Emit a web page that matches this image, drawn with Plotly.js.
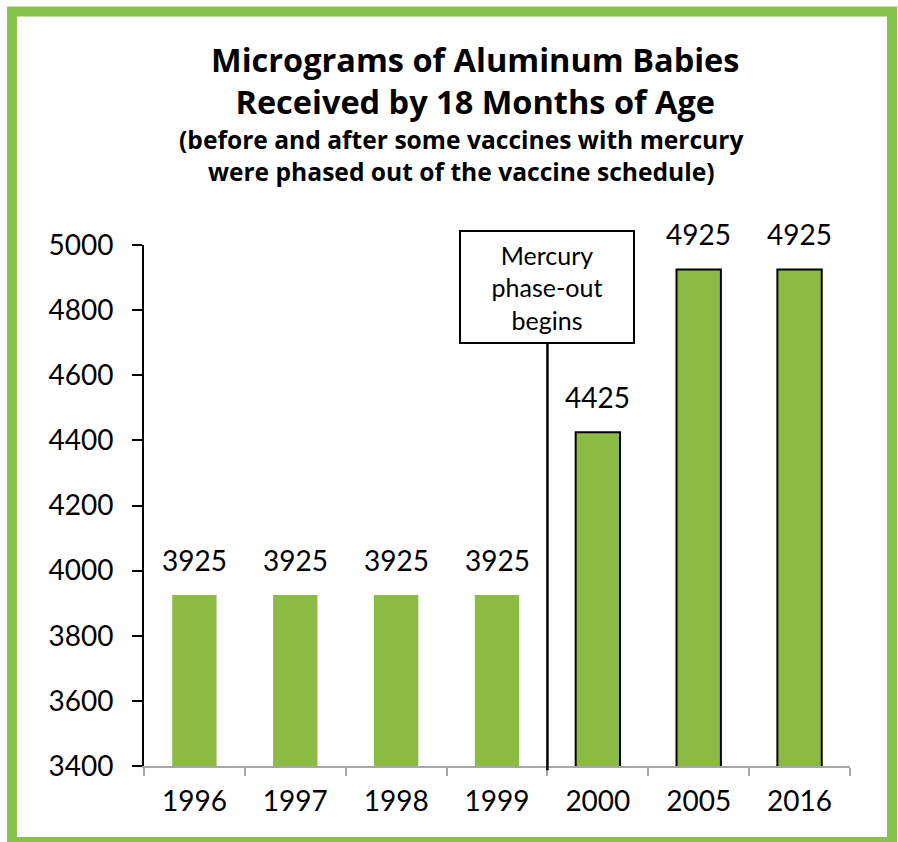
<!DOCTYPE html>
<html>
<head>
<meta charset="utf-8">
<script src="https://cdn.plot.ly/plotly-3.0.1.min.js"></script>
<style>
  html, body { margin: 0; padding: 0; background: #ffffff; }
  #chart { width: 898px; height: 842px; }
</style>
</head>
<body>
<div id="chart"></div>
<script>
// ---- Data ----
const years = ["1996", "1997", "1998", "1999", "2000", "2005", "2016"];
const aluminumMcg = [3925, 3925, 3925, 3925, 4425, 4925, 4925];
const outlineWidths = [0, 0, 0, 0, 2, 2, 2];
const yTickValues = [3400, 3600, 3800, 4000, 4200, 4400, 4600, 4800, 5000];
const titleLines = ["Micrograms of Aluminum Babies", "Received by 18 Months of Age"];
const subtitleLines = ["(before and after some vaccines with mercury", "were phased out of the vaccine schedule)"];
const markerText = "Mercury<br>phase-out<br>begins";

// ---- Styles ----
const barGreen = "#8cbb43";
const frameGreen = "#85c24c";
const tickFont = { family: "Lato, 'Open Sans', sans-serif", size: 28, color: "#000000" };
const titleFont = { family: "'Open Sans', 'Noto Sans', sans-serif", size: 32.5, color: "#000000" };
const subFont = { family: "'Open Sans', 'Noto Sans', sans-serif", size: 24.6, color: "#000000" };

const trace = {
  type: "bar",
  x: years,
  y: aluminumMcg,
  width: 0.44,
  marker: {
    color: barGreen,
    line: { color: "#000000", width: outlineWidths }
  },
  hoverinfo: "x+y",
  showlegend: false
};

const annotations = [];
// value labels
years.forEach((yr, i) => {
  annotations.push({
    x: i, y: aluminumMcg[i], xref: "x", yref: "y",
    text: String(aluminumMcg[i]), showarrow: false,
    xanchor: "center", yanchor: "middle", yshift: 35,
    font: tickFont
  });
});
// title (two lines)
annotations.push({
  x: 0.469, y: 1.3165, xref: "paper", yref: "paper",
  text: titleLines.map(t => "<b>" + t + "</b>").join("<br>"), showarrow: false,
  xanchor: "center", yanchor: "middle", font: titleFont
});
// subtitle (two lines)
annotations.push({
  x: 0.449, y: 1.1725, xref: "paper", yref: "paper",
  text: subtitleLines.map(t => "<b>" + t + "</b>").join("<br>"), showarrow: false,
  xanchor: "center", yanchor: "middle", font: subFont
});
// phase-out box
annotations.push({
  x: 3.5, y: 0.919, xref: "x", yref: "paper",
  text: markerText, showarrow: false,
  xanchor: "center", yanchor: "middle",
  width: 168, height: 106, borderpad: 2,
  bordercolor: "#000000", borderwidth: 2, bgcolor: "#ffffff",
  font: { family: "Lato, 'Open Sans', sans-serif", size: 25, color: "#000000" }
});

const shapes = [
  // phase-out vertical line
  { type: "line", xref: "x", yref: "paper", x0: 3.5, x1: 3.5, y0: -0.008, y1: 0.81,
    line: { color: "#000000", width: 2.5 } },
  // green frame
  { type: "rect", xref: "paper", yref: "paper",
    x0: -0.187, x1: 1.0595, y0: -0.146, y1: 1.448,
    line: { color: frameGreen, width: 10 }, fillcolor: "rgba(0,0,0,0)", layer: "above" }
];

const layout = {
  width: 898, height: 842,
  margin: { l: 144, r: 48, t: 245, b: 76, pad: 0 },
  paper_bgcolor: "#ffffff", plot_bgcolor: "#ffffff",
  showlegend: false,
  xaxis: {
    type: "category",
    categoryorder: "array", categoryarray: years,
    range: [-0.5, years.length - 0.5],
    autorange: false,
    showgrid: false, zeroline: false,
    showline: true, linecolor: "#a6a6a6", linewidth: 2,
    ticks: "outside", tickson: "boundaries", ticklen: 8, tickwidth: 2, tickcolor: "#a6a6a6",
    tickfont: tickFont, tickangle: 0, ticklabelstandoff: 9,
    fixedrange: true
  },
  yaxis: {
    range: [3400, 5000],
    autorange: false,
    tickmode: "array", tickvals: yTickValues, ticktext: yTickValues.map(String),
    showgrid: false, zeroline: false,
    showline: true, linecolor: "#000000", linewidth: 2,
    ticks: "outside", ticklen: 10, tickwidth: 2, tickcolor: "#000000",
    tickfont: tickFont, ticklabelstandoff: 13,
    fixedrange: true
  },
  annotations: annotations,
  shapes: shapes
};

Plotly.newPlot("chart", [trace], layout, { displayModeBar: false, staticPlot: true });
</script>
</body>
</html>
